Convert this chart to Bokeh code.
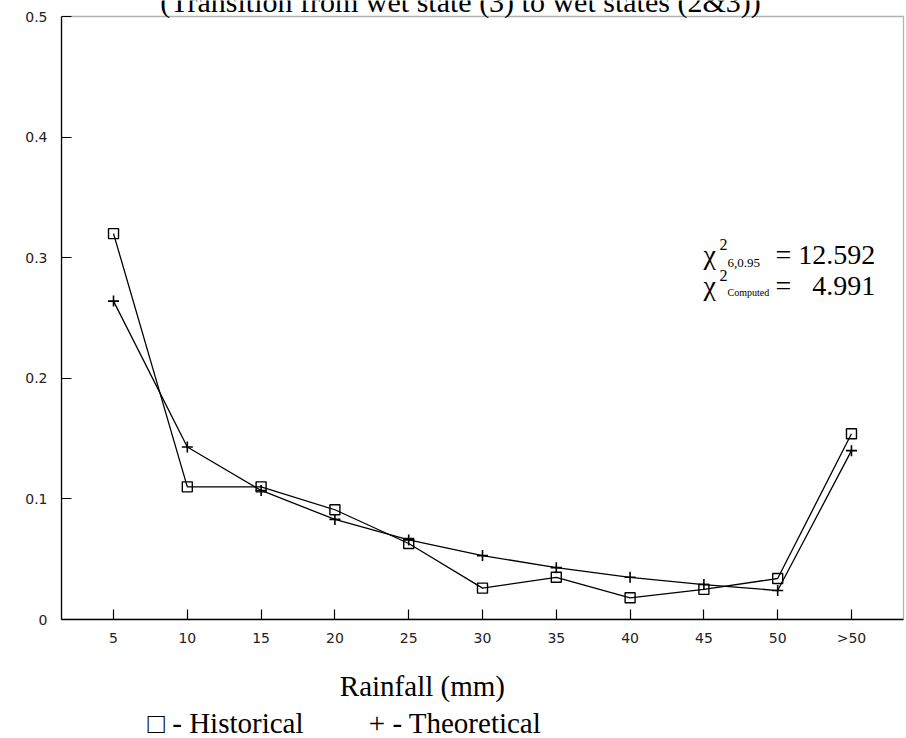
from bokeh.plotting import figure
from bokeh.models import Range1d, FixedTicker, Label, Title, BoxAnnotation, LinearAxis
from bokeh.embed import file_html
from bokeh.resources import INLINE

# ---- data ----
categories = ["5", "10", "15", "20", "25", "30", "35", "40", "45", "50", ">50"]
historical = [0.320, 0.110, 0.110, 0.091, 0.063, 0.026, 0.035, 0.018, 0.025, 0.034, 0.154]
theoretical = [0.264, 0.143, 0.107, 0.083, 0.066, 0.053, 0.043, 0.035, 0.029, 0.024, 0.140]
y_ticks = [0, 0.1, 0.2, 0.3, 0.4, 0.5]
y_tick_labels = ["0", "0.1", "0.2", "0.3", "0.4", "0.5"]
y_max = 0.5

title_text = "(Transition from wet state (3) to wet states (2&3))"
xlabel_text = "Rainfall (mm)"
legend_text = "\u25a1 - Historical" + "\u00a0" * 9 + "+ - Theoretical"
chi_crit = "= 12.592"
chi_comp = "=\u00a0\u00a0\u00a04.991"

x = list(range(1, len(categories) + 1))

W, H = 906, 738
FL, FB = 61, 619          # frame left / bottom in pixels
BOX_R, BOX_T = 903, 16    # plot border right / top in pixels
X0, XB = 0.295, 11.705    # data x at the left axis and at the right border
sx = (BOX_R - FL) / (XB - X0)
sy = (FB - BOX_T) / y_max
X1 = X0 + (W - FL) / sx
Y1 = FB / sy


def dx(px):
    return X0 + (px - FL) / sx


p = figure(width=W, height=H, output_backend="svg", toolbar_location=None,
           x_range=Range1d(X0, X1), y_range=Range1d(0, Y1),
           min_border_left=FL, min_border_right=0,
           min_border_top=0, min_border_bottom=H - FB)
p.title.visible = False
p.background_fill_color = "white"
p.border_fill_color = "white"
p.xgrid.visible = False
p.ygrid.visible = False
p.outline_line_color = None

p.xaxis.ticker = FixedTicker(ticks=x)
p.xaxis.major_label_overrides = {xi: c for xi, c in zip(x, categories)}
p.xaxis.bounds = (X0, XB)
p.yaxis.ticker = FixedTicker(ticks=y_ticks)
p.yaxis.major_label_overrides = {t: s for t, s in zip(y_ticks, y_tick_labels)}
p.yaxis.bounds = (0, y_max)
for ax in (p.xaxis[0], p.yaxis[0]):
    ax.axis_line_color = "black"
    ax.axis_line_width = 1.3
    ax.major_tick_in = 10
    ax.major_tick_out = 0
    ax.major_tick_line_color = "black"
    ax.major_tick_line_width = 1.2
    ax.minor_tick_line_color = None
    ax.major_label_text_font = "DejaVu Sans"
    ax.major_label_text_font_size = "14px"
    ax.major_label_text_color = "#222222"
p.xaxis.major_label_standoff = 10
p.yaxis.major_label_standoff = 14

# x-axis title on a tick-less axis; trailing no-break spaces shift the
# centred label left to where the reference places it
label_axis = LinearAxis(ticker=FixedTicker(ticks=[]),
                        axis_line_color=None, major_tick_line_color=None,
                        minor_tick_line_color=None, major_tick_in=0, major_tick_out=0,
                        minor_tick_in=0, minor_tick_out=0, major_label_standoff=0,
                        axis_label=xlabel_text + "\u00a0" * 17,
                        axis_label_standoff=21,
                        axis_label_text_font="Liberation Serif",
                        axis_label_text_font_size="29px",
                        axis_label_text_font_style="normal",
                        axis_label_text_color="black")
p.add_layout(label_axis, "below")

# legend line
t2 = Title(text=legend_text, align="left", offset=147 - FL, standoff=0,
           text_font="Liberation Serif", text_font_size="29px",
           text_font_style="normal", text_color="black")
p.add_layout(t2, "below")

# plot border (top and right edges)
p.add_layout(BoxAnnotation(left=X0, right=XB, bottom=0, top=y_max,
                           fill_color=None, line_color="black", line_width=1.3))

# series
p.line(x, historical, line_color="black", line_width=1.3)
p.line(x, theoretical, line_color="black", line_width=1.3)
p.scatter(x, historical, marker="square", size=10, fill_alpha=0,
          line_color="black", line_width=1.4)
p.scatter(x, theoretical, marker="cross", size=11,
          line_color="black", line_width=1.6)


def add_text(text, px, pyc, size, align="left", font="Liberation Serif"):
    # pyc: vertical centre of the text, in canvas pixels
    p.add_layout(Label(x=dx(px), y=0, y_offset=FB - pyc, text=text,
                       text_font=font, text_font_size=f"{size}px",
                       text_color="black", text_align=align,
                       text_baseline="middle"))


add_text(title_text, 460, 1, 30, align="center")

# chi-square annotation
add_text("\u03c7", 703, 254, 28)
add_text("2", 719, 244, 16)
add_text("6,0.95", 727, 262, 13)
add_text(chi_crit, 775, 254, 28)
add_text("\u03c7", 703, 285, 28)
add_text("2", 719, 275, 16)
add_text("Computed", 727, 292, 10)
add_text(chi_comp, 775, 285, 28)

open("out.html", "w").write(file_html(p, INLINE))
